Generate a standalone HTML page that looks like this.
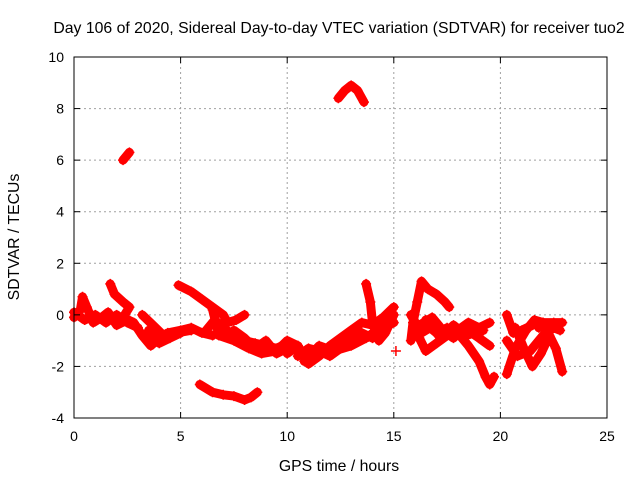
<!DOCTYPE html>
<html><head><meta charset="utf-8"><style>
body{margin:0;background:#fff}
svg{display:block;font-family:"Liberation Sans",sans-serif}
</style></head><body>
<svg id="c" width="640" height="480">
<text x="339" y="33" text-anchor="middle" font-size="15.8">Day 106 of 2020, Sidereal Day-to-day VTEC variation (SDTVAR) for receiver tuo2</text>
<text x="339" y="471" text-anchor="middle" font-size="15.8">GPS time / hours</text>
<text transform="translate(19,237) rotate(-90)" text-anchor="middle" font-size="15.8">SDTVAR / TECUs</text>
<g id="grid"></g><g id="marks"></g><g id="axes"></g>
</svg>
<script>
const xTicks=[0,5,10,15,20,25];
const yTicks=[-4,-2,0,2,4,6,8,10];
const tracks=[
[[0,-0.1],[0.3,0.2],[0.4,0.7],[0.6,0.3],[0.9,-0.3],[1.3,-0.1],[1.6,0.1],[2.0,-0.4],[2.5,-0.2]],
[[0,0.1],[0.5,-0.2],[1.0,0.0],[1.5,-0.3],[2.0,0.0],[2.5,-0.3],[3.0,-0.5]],
[[1.7,1.2],[1.9,0.8],[2.3,0.5],[2.6,0.3],[2.3,-0.1],[2.8,-0.3],[3.2,-0.8],[3.6,-1.2],[4.0,-0.9],[4.4,-0.7],[5,-0.6],[5.5,-0.5],[6,-0.7],[6.5,-0.8]],
[[3.2,0],[3.7,-0.4],[4.2,-0.8],[4.8,-0.7],[5.5,-0.6]],
[[3.5,-0.6],[4.0,-1.1],[4.5,-0.9],[5.0,-0.7]],
[[4.9,1.15],[5.5,0.9],[6,0.6],[6.5,0.3],[7,0],[7.2,-0.3],[7.6,-0.2],[8,0]],
[[6.2,-0.6],[6.6,-0.2],[7,-0.5],[7.5,-0.8],[8,-1],[8.5,-1.1],[9,-1.2],[9.5,-1.3],[10,-1.1]],
[[6.5,0.2],[6.8,-0.8],[7.5,-1.0],[8.2,-1.3],[8.8,-1.5],[9.5,-1.4],[10,-1.0],[10.5,-1.2]],
[[7.5,-0.6],[8.0,-0.9],[8.5,-1.3],[9.0,-1.0],[9.5,-1.5],[10,-1.3]],
[[5.9,-2.7],[6.5,-3.0],[7,-3.1],[7.5,-3.15],[8,-3.3],[8.3,-3.2],[8.6,-3.0]],
[[2.3,6.0],[2.6,6.3]],
[[12.4,8.4],[12.7,8.7],[13.0,8.9],[13.3,8.7],[13.6,8.25]],
[[10,-1.5],[10.5,-1.2],[11,-1.9],[11.5,-1.6],[12,-1.2],[12.5,-0.9],[13,-0.6],[13.5,-0.3],[14,-0.4],[14.5,-0.1],[15,0.3]],
[[10.5,-1.6],[11,-1.3],[11.5,-1.4],[12,-1.6],[12.5,-1.3],[13,-1.0],[13.5,-0.7],[14,-0.9],[14.5,-0.5],[15,-0.3]],
[[10.8,-1.8],[11.5,-1.2],[12.2,-1.4],[13,-1.2],[13.7,-0.9],[14.2,-0.6],[14.8,-0.2]],
[[13.7,1.2],[13.9,0.5],[14.0,-0.3],[14.3,-1.0],[14.6,-0.7],[15,0]],
[[15.8,-1.0],[15.9,-0.3],[16.1,0.5],[16.3,1.3],[16.6,1.0],[17,0.8],[17.4,0.5],[17.6,0.3]],
[[15.8,0],[16.3,-0.7],[16.7,-0.5],[17,-0.7],[17.5,-0.5],[18,-0.6],[18.5,-0.3],[19,-0.5],[19.5,-0.3]],
[[15.9,-0.5],[16.2,-0.9],[16.5,-1.4],[17,-1.1],[17.5,-0.8],[18,-0.7],[18.5,-1.2],[19,-1.8],[19.3,-2.4],[19.5,-2.7],[19.7,-2.4]],
[[16.2,-0.4],[16.8,-0.1],[17.3,-0.6],[17.8,-0.9],[18.3,-0.5],[19,-0.9],[19.5,-1.2]],
[[16.5,-0.2],[17.2,-0.9],[17.8,-0.4],[18.4,-0.8],[19.2,-0.6]],
[[20.3,0],[20.6,-0.7],[21,-0.6],[21.5,-0.4],[22,-0.3],[22.5,-0.3],[22.9,-0.3]],
[[20.3,-2.3],[20.7,-1.3],[21.2,-0.6],[21.6,-0.2],[22,-0.3]],
[[20.7,-0.5],[21.1,-1.3],[21.5,-2.0],[21.9,-1.5],[22.3,-0.8],[22.6,-1.3],[22.9,-2.2]],
[[20.3,-1.0],[20.8,-1.6],[21.4,-1.4],[22,-0.8],[22.5,-0.5]],
[[21.8,-0.5],[22.2,-0.4],[22.8,-0.6]],
[[15.1,-1.4]]
];
const L=74,R=607,T=57,B=418;
const X=t=>L+(t-0)/(25-0)*(R-L);
const Y=v=>B-(v+4)/14*(B-T);
const NS="http://www.w3.org/2000/svg";
function mk(tag,attrs,parent){const e=document.createElementNS(NS,tag);for(const k in attrs)e.setAttribute(k,attrs[k]);parent.appendChild(e);return e;}
const grid=document.getElementById('grid'),marks=document.getElementById('marks'),axes=document.getElementById('axes');
xTicks.forEach(t=>{
 if(t>0&&t<25){const g=mk('line',{x1:X(t),x2:X(t),y1:T,y2:B,stroke:'#a0a0a0','stroke-dasharray':'2,3'},grid);
 
 }
 mk('line',{x1:X(t),x2:X(t),y1:B,y2:B-6,stroke:'#000'},axes);
 mk('line',{x1:X(t),x2:X(t),y1:T,y2:T+6,stroke:'#000'},axes);
 const tx=mk('text',{x:X(t),y:B+23,'text-anchor':'middle','font-size':'14'},axes);tx.textContent=t;
 
 
});
yTicks.forEach(v=>{
 if(v>-4&&v<10){const g=mk('line',{x1:L,x2:R,y1:Y(v),y2:Y(v),stroke:'#a0a0a0','stroke-dasharray':'2,3'},grid);
 
 }
 mk('line',{x1:L,x2:L+6,y1:Y(v),y2:Y(v),stroke:'#000'},axes);
 mk('line',{x1:R,x2:R-6,y1:Y(v),y2:Y(v),stroke:'#000'},axes);
 const tx=mk('text',{x:L-10,y:Y(v)+5,'text-anchor':'end','font-size':'14'},axes);tx.textContent=v;
 
 
});
const box=mk('rect',{x:L,y:T,width:R-L,height:B-T,fill:'none',stroke:'#000'},axes);


tracks.forEach(tr=>{
 const pl=mk('polyline',{points:tr.map(p=>X(p[0])+','+Y(p[1])).join(' '),fill:'none',stroke:'#ff0000','stroke-width':9,'stroke-linejoin':'round','stroke-linecap':'round'},marks);
 
 
 tr.forEach(p=>{
  const m=mk('path',{d:`M${X(p[0])-5},${Y(p[1])}h10M${X(p[0])},${Y(p[1])-5}v10`,stroke:'#ff0000','stroke-width':1.5},marks);
  
  
 });
});
</script>
</body></html>
